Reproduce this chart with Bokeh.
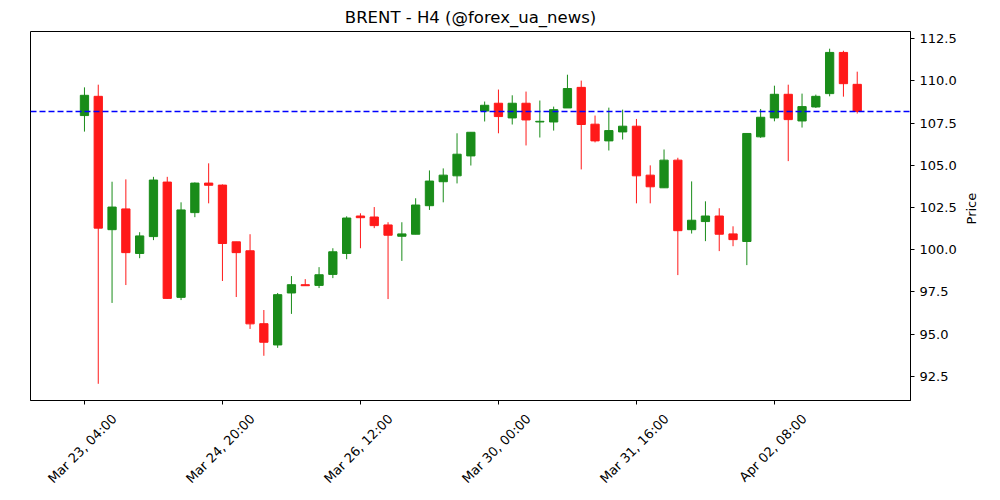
import math
from bokeh.plotting import figure
from bokeh.layouts import row
from bokeh.models import (ColumnDataSource, FixedTicker, Range1d,
                          NumeralTickFormatter, LinearAxis)
from bokeh.core.properties import value
from bokeh.embed import file_html
from bokeh.resources import INLINE

title_text = "BRENT - H4 (@forex_ua_news)"
y_label = "Price"

opens = [107.95, 109.09, 101.19, 102.42, 99.78, 100.78, 104.01, 97.18, 102.20, 103.95,
         103.83, 100.47, 99.94, 95.62, 94.36, 97.44, 97.93, 97.89, 98.54, 99.78,
         102.00, 101.94, 101.47, 100.80, 100.92, 102.61, 104.03, 104.38, 105.56, 108.22,
         108.68, 107.81, 108.68, 107.57, 107.57, 108.40, 109.62, 107.44, 106.45, 106.98,
         107.32, 104.42, 103.67, 105.31, 101.19, 101.67, 102.00, 100.94, 100.49, 106.69,
         107.81, 109.21, 107.63, 108.46, 109.25, 111.69, 109.80]
highs = [109.62, 109.78, 104.03, 104.17, 101.04, 104.32, 104.32, 102.81, 103.99, 105.12,
         103.87, 100.47, 100.92, 96.43, 97.44, 98.44, 98.26, 98.97, 100.09, 101.98,
         102.16, 102.53, 101.63, 101.63, 103.05, 104.70, 104.82, 106.90, 106.96, 108.78,
         109.49, 109.15, 109.37, 108.84, 108.48, 110.37, 110.02, 107.95, 108.42, 108.30,
         107.75, 105.00, 105.94, 105.45, 104.05, 102.87, 102.46, 101.39, 106.89, 108.34,
         109.72, 109.78, 109.25, 109.19, 111.91, 111.79, 110.55]
lows = [107.00, 92.06, 96.85, 97.91, 99.50, 100.57, 97.10, 97.02, 101.93, 102.75,
        98.15, 97.20, 95.31, 93.72, 94.19, 96.20, 97.87, 97.73, 98.32, 99.44,
        100.09, 101.28, 97.08, 99.34, 100.92, 102.36, 102.81, 103.93, 104.99, 107.60,
        106.90, 107.42, 106.18, 106.65, 107.06, 108.40, 104.76, 106.36, 105.88, 106.53,
        102.75, 102.75, 103.67, 98.50, 100.96, 100.51, 99.92, 100.21, 99.09, 106.63,
        107.61, 105.25, 107.24, 108.40, 109.09, 109.07, 108.07]
closes = [109.15, 101.28, 102.53, 99.83, 100.82, 104.13, 97.12, 102.36, 103.95, 103.82,
          100.37, 99.83, 95.61, 94.52, 97.34, 97.93, 97.87, 98.52, 99.88, 101.88,
          101.90, 101.43, 100.86, 100.94, 102.65, 104.07, 104.42, 105.66, 106.96, 108.56,
          107.89, 108.68, 107.69, 107.61, 108.30, 109.55, 107.42, 106.45, 107.06, 107.32,
          104.38, 103.73, 105.31, 101.13, 101.75, 102.00, 100.92, 100.60, 106.89, 107.85,
          109.21, 107.71, 108.48, 109.09, 111.69, 109.84, 108.19]

tick_index = [0, 10, 20, 30, 40, 50]
tick_labels = ["Mar 23, 04:00", "Mar 24, 20:00", "Mar 26, 12:00",
               "Mar 30, 00:00", "Mar 31, 16:00", "Apr 02, 08:00"]
price_ticks = [92.5, 95.0, 97.5, 100.0, 102.5, 105.0, 107.5, 110.0, 112.5]

UP = "#198c19"
DOWN = "#ff1919"
LABEL_SHIFT = 2.18  # centre rotated labels on their tick (in candle units)
X0, X1 = -3.91, 59.86
Y0, Y1 = 91.07, 112.93

idx = list(range(len(opens)))
colors = [UP if c >= o else DOWN for o, c in zip(opens, closes)]
src = ColumnDataSource(dict(
    x=idx, open=opens, high=highs, low=lows, close=closes,
    top=[max(o, c) for o, c in zip(opens, closes)],
    bottom=[min(o, c) for o, c in zip(opens, closes)],
    color=colors,
))

p = figure(width=960, height=500, output_backend="svg", toolbar_location=None,
           x_range=Range1d(X0, X1), y_range=Range1d(Y0, Y1),
           y_axis_location="right", title=title_text,
           min_border_left=30, min_border_right=50, min_border_top=30, min_border_bottom=100)

p.segment(x0="x", y0="high", x1="x", y1="low", source=src, line_color="color", line_width=1)
p.vbar(x="x", width=0.6, top="top", bottom="bottom", source=src,
       fill_color="color", line_color="color", line_width=1)

# last close reference line
p.hspan(y=[closes[-1]], line_color="#0000ff", line_dash="6 3", line_width=1.5)

p.title.align = "center"
p.title.text_font = "DejaVu Sans"
p.title.text_font_size = "16.5px"
p.title.text_font_style = "normal"
p.title.text_color = "black"

p.xgrid.visible = False
p.ygrid.visible = False
p.outline_line_color = "black"
p.outline_line_alpha = 1
p.outline_line_width = 1
p.background_fill_color = "white"
p.border_fill_color = "white"

# tick marks only
xa = p.xaxis[0]
xa.ticker = FixedTicker(ticks=tick_index)
xa.major_label_overrides = {i: "" for i in tick_index}
xa.major_label_text_font_size = "0px"
xa.major_label_standoff = 0
xa.minor_tick_line_color = None
xa.major_tick_in = 0
xa.major_tick_out = 4
xa.axis_line_color = "black"

# labels, centred on the ticks like matplotlib's rotated labels
xl = LinearAxis(ticker=FixedTicker(ticks=[t + LABEL_SHIFT for t in tick_index]))
xl.major_label_overrides = {t + LABEL_SHIFT: lab for t, lab in zip(tick_index, tick_labels)}
xl.major_label_orientation = math.pi / 4
xl.major_tick_line_color = None
xl.minor_tick_line_color = None
xl.axis_line_color = None
xl.major_label_standoff = 6
xl.major_label_text_font = "DejaVu Sans"
xl.major_label_text_font_size = "13px"
xl.major_label_text_color = "black"
p.add_layout(xl, "below")

ya = p.yaxis[0]
ya.ticker = FixedTicker(ticks=price_ticks)
ya.formatter = NumeralTickFormatter(format="0.0")
ya.minor_tick_line_color = None
ya.major_tick_in = 0
ya.major_tick_out = 4
ya.major_label_text_font = "DejaVu Sans"
ya.major_label_text_font_size = "13px"
ya.major_label_text_color = "black"
ya.axis_line_color = "black"

# narrow strip holding the "Price" axis title, reading bottom-to-top
q = figure(width=40, height=500, output_backend="svg", toolbar_location=None,
           x_range=Range1d(0, 40), y_range=Range1d(500, 0),
           x_axis_type=None, y_axis_type=None, min_border=0)
q.xgrid.visible = False
q.ygrid.visible = False
q.outline_line_color = None
q.background_fill_color = "white"
q.border_fill_color = "white"
q.text(x=[11], y=[240], text=[y_label], angle=math.pi / 2,
       text_align="center", text_baseline="middle",
       text_font=value("DejaVu Sans"), text_font_size="13px", text_color="black")

layout = row(p, q, spacing=0)
open("out.html", "w").write(file_html(layout, INLINE))
